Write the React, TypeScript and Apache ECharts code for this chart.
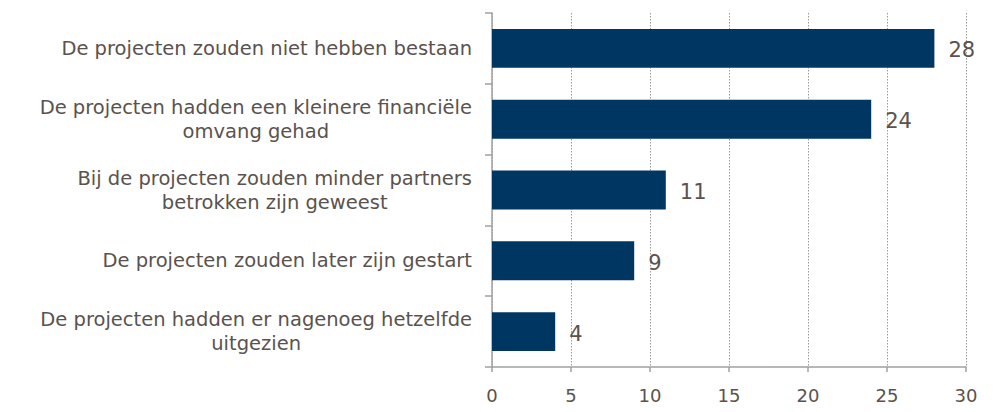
import React, { useEffect, useRef } from "react";
import * as echarts from "echarts";

const categories: string[][] = [
  ["De projecten zouden niet hebben bestaan"],
  ["De projecten hadden een kleinere financiële", "omvang gehad"],
  ["Bij de projecten zouden minder partners", "betrokken zijn geweest"],
  ["De projecten zouden later zijn gestart"],
  ["De projecten hadden er nagenoeg hetzelfde", "uitgezien"],
];
const values: number[] = [28, 24, 11, 9, 4];
const xMin = 0;
const xMax = 30;
const xStep = 5;

const TEXT = "#5a524e";
const AXIS = "#a0a0a0";
const FONT = "DejaVu Sans";

export default function App() {
  const ref = useRef<HTMLDivElement>(null);
  useEffect(() => {
    if (!ref.current) return;
    const chart = echarts.init(ref.current, undefined, { renderer: "svg" });
    chart.setOption({
      animation: false,
      grid: { left: 484, right: 24, top: 5, bottom: 27, containLabel: false },
      xAxis: {
        type: "value",
        min: xMin,
        max: xMax,
        interval: xStep,
        axisLine: { show: true, lineStyle: { color: AXIS, width: 1.5 } },
        axisTick: { show: true, length: 5, lineStyle: { color: AXIS, width: 1.5 } },
        axisLabel: { color: TEXT, fontFamily: FONT, fontSize: 18, margin: 19 },
        splitLine: { show: true, lineStyle: { color: "#9a9a9a", type: [1.5, 1.5], width: 1 } },
      },
      yAxis: {
        type: "category",
        inverse: true,
        data: categories.map((c) => c.join("\n")),
        axisLine: { show: true, lineStyle: { color: AXIS, width: 1.5 } },
        axisTick: { show: true, length: 7, lineStyle: { color: AXIS, width: 1.5 } },
        axisLabel: {
          margin: 20,
          formatter: (v: string) => v.split("\n").map((l) => `{c|${l}}`).join("\n"),
          rich: {
            c: { align: "center", color: TEXT, fontFamily: FONT, fontSize: 19.5, lineHeight: 24 },
          },
        },
        splitLine: { show: false },
      },
      series: [
        {
          type: "bar",
          data: values,
          barCategoryGap: "45%",
          itemStyle: { color: "#003662" },
          label: {
            show: true,
            position: "right",
            distance: 14,
            color: TEXT,
            fontFamily: FONT,
            fontSize: 21,
            offset: [0, 2],
          },
        },
      ],
    });
    return () => chart.dispose();
  }, []);
  return <div ref={ref} style={{ width: 982, height: 396 }} />;
}
